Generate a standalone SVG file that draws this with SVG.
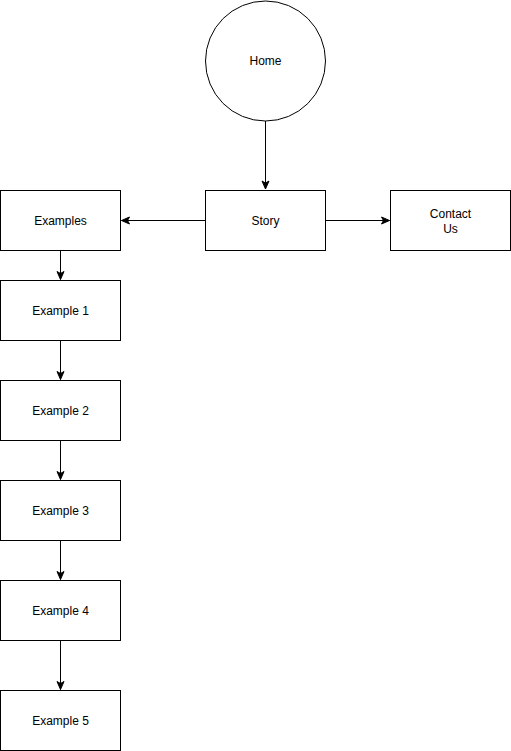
<svg xmlns="http://www.w3.org/2000/svg" width="511" height="751" viewBox="0 0 511 751">
<style>
.n{fill:#fff;stroke:#000;stroke-width:1}
.t{font-family:"Liberation Sans",Arial,sans-serif;font-size:12px;fill:#000;text-anchor:middle;dominant-baseline:central}
.e{fill:none;stroke:#000;stroke-width:1}
</style>
<defs>
<marker id="a" markerWidth="10" markerHeight="10" viewBox="0 0 10 10" refX="9" refY="5" orient="auto" markerUnits="userSpaceOnUse">
<path d="M1,1.5 L9,5 L1,8.5 L3,5 Z" fill="#000" stroke="#000" stroke-width="1"/>
</marker>
</defs>
<rect width="511" height="751" fill="#fff"/>
<g id="connectors">
<path class="e" d="M265.5,121 L265.5,189" marker-end="url(#a)"/>
<path class="e" d="M205.5,220.5 L121.5,220.5" marker-end="url(#a)"/>
<path class="e" d="M325.5,220.5 L389.5,220.5" marker-end="url(#a)"/>
<path class="e" d="M60.5,250.5 L60.5,279.5" marker-end="url(#a)"/>
<path class="e" d="M60.5,340.5 L60.5,379.5" marker-end="url(#a)"/>
<path class="e" d="M60.5,440.5 L60.5,479.5" marker-end="url(#a)"/>
<path class="e" d="M60.5,540.5 L60.5,579.5" marker-end="url(#a)"/>
<path class="e" d="M60.5,640.5 L60.5,689.5" marker-end="url(#a)"/>
</g>
<g id="home"><circle class="n" cx="265.5" cy="61" r="60"/><text class="t" x="265.5" y="61">Home</text></g>
<g id="story"><rect class="n" x="205.5" y="190.5" width="120" height="60"/><text class="t" x="265.5" y="220.5">Story</text></g>
<g id="examples"><rect class="n" x="0.5" y="190.5" width="120" height="60"/><text class="t" x="60.5" y="220.5">Examples</text></g>
<g id="contact"><rect class="n" x="390.5" y="190.5" width="120" height="60"/><text class="t" x="450.5" y="213.5">Contact</text><text class="t" x="450.5" y="228.5">Us</text></g>
<g id="ex1"><rect class="n" x="0.5" y="280.5" width="120" height="60"/><text class="t" x="60.5" y="310.5">Example 1</text></g>
<g id="ex2"><rect class="n" x="0.5" y="380.5" width="120" height="60"/><text class="t" x="60.5" y="410.5">Example 2</text></g>
<g id="ex3"><rect class="n" x="0.5" y="480.5" width="120" height="60"/><text class="t" x="60.5" y="510.5">Example 3</text></g>
<g id="ex4"><rect class="n" x="0.5" y="580.5" width="120" height="60"/><text class="t" x="60.5" y="610.5">Example 4</text></g>
<g id="ex5"><rect class="n" x="0.5" y="690.5" width="120" height="60"/><text class="t" x="60.5" y="720.5">Example 5</text></g>
</svg>
